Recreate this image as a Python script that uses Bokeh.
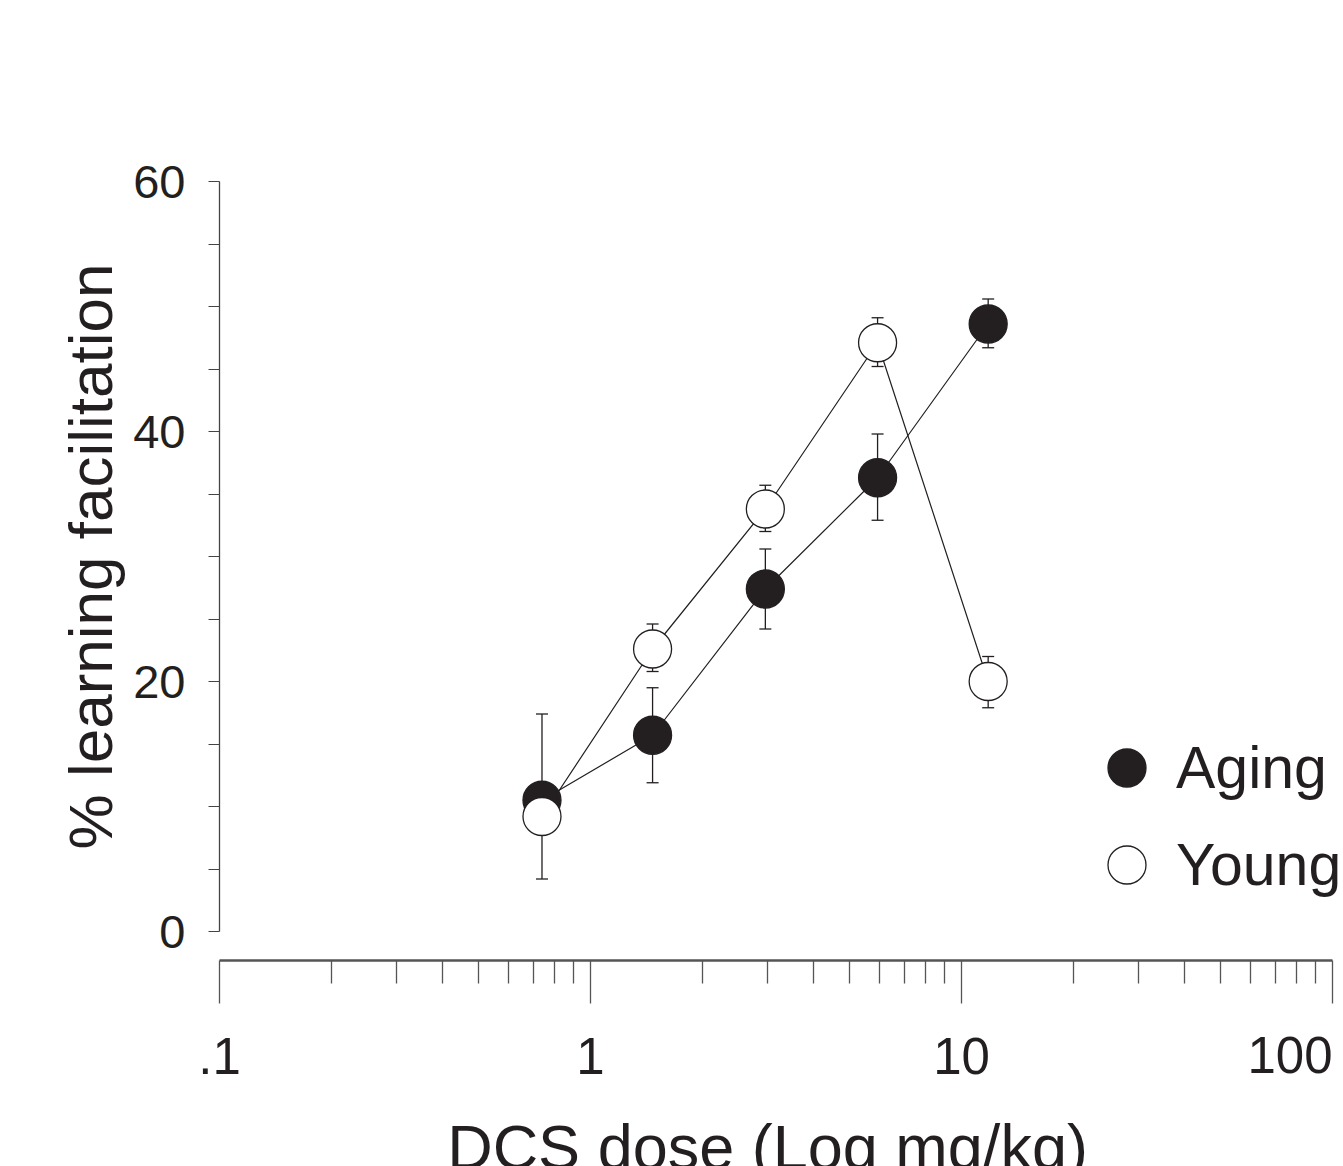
import math
from bokeh.plotting import figure
from bokeh.models import (ColumnDataSource, Range1d, FixedTicker, Whisker, TeeHead,
                          Legend, LegendItem, Label)
from bokeh.embed import file_html
from bokeh.resources import INLINE

# ---------------- data ----------------
dose = [0.74, 1.47, 2.96, 5.94, 11.8]
aging_mean = [10.5, 15.7, 27.4, 36.3, 48.6]
aging_upper = [17.4, 19.5, 30.6, 39.8, 50.6]
aging_lower = [10.5, 11.9, 24.2, 32.9, 46.7]
young_mean = [9.2, 22.6, 33.8, 47.1, 20.0]
young_upper = [9.2, 24.6, 35.7, 49.1, 22.0]
young_lower = [4.2, 20.8, 32.0, 45.2, 17.9]
series_names = ["Aging", "Young"]
x_tick_values = [0.1, 1, 10, 100]
x_tick_labels = [".1", "1", "10", "100"]
y_tick_values = [0, 20, 40, 60]
y_minor_values = [5, 10, 15, 25, 30, 35, 45, 50, 55]
x_title = "DCS dose (Log mg/kg)"
y_title = "% learning facilitation"

FONT = "Liberation Sans"
INK = "#231f20"
AXIS = "#444444"

# ---------------- page geometry (pixels) ----------------
W, H = 1343, 1166
X_LEFT, X_RIGHT = 219, 1332      # pixel of x = 0.1 and x = 100
Y_TOP, Y_ZERO = 181, 931         # pixel of y = 60 and y = 0
X_AXIS_PX = 960                  # detached x axis line
dec = (X_RIGHT - X_LEFT) / 3.0
ppu = (Y_ZERO - Y_TOP) / 60.0
x_start = 10 ** (-1 - X_LEFT / dec)
x_end = 10 ** (2 + (W - X_RIGHT) / dec)
y_start = (Y_ZERO - H) / ppu
y_end = Y_ZERO / ppu
x_axis_y = (Y_ZERO - X_AXIS_PX) / ppu

p = figure(width=W, height=H, x_axis_type="log",
           x_range=Range1d(x_start, x_end), y_range=Range1d(y_start, y_end),
           output_backend="svg", toolbar_location=None,
           min_border=0, min_border_left=0, min_border_right=0,
           min_border_top=0, min_border_bottom=0)
p.title.visible = False
p.outline_line_color = None
p.xgrid.visible = False
p.ygrid.visible = False
p.background_fill_color = "white"
p.border_fill_color = "white"

# ---------------- y axis ----------------
ya = p.yaxis[0]
ya.fixed_location = x_tick_values[0]
ya.ticker = FixedTicker(ticks=y_tick_values, minor_ticks=y_minor_values)
ya.bounds = (0, 60)
ya.axis_line_color = AXIS
ya.axis_line_width = 1.3
ya.major_tick_line_color = AXIS
ya.minor_tick_line_color = AXIS
ya.major_tick_line_width = 1.2
ya.minor_tick_line_width = 1.2
ya.major_tick_in = 0
ya.major_tick_out = 11
ya.minor_tick_in = 0
ya.minor_tick_out = 11
ya.major_label_standoff = 23
ya.major_label_text_font = FONT
ya.major_label_text_font_size = "47px"
ya.major_label_text_color = INK
ya.axis_label = y_title
ya.axis_label_text_font = FONT
ya.axis_label_text_font_size = "62px"
ya.axis_label_text_font_style = "normal"
ya.axis_label_text_color = INK
ya.axis_label_standoff = 5

# ---------------- x axis ----------------
minor_x = [m * 10.0 ** e for e in (-1, 0, 1) for m in range(2, 10)]
xa = p.xaxis[0]
xa.fixed_location = x_axis_y
xa.bounds = (x_tick_values[0], x_tick_values[-1])
xa.ticker = FixedTicker(ticks=x_tick_values, minor_ticks=minor_x)
xa.axis_line_color = "#555555"
xa.axis_line_width = 2.5
xa.major_tick_line_color = "#555555"
xa.minor_tick_line_color = "#555555"
xa.major_tick_line_width = 1.3
xa.minor_tick_line_width = 1.3
xa.major_tick_in = 0
xa.major_tick_out = 43
xa.minor_tick_in = 0
xa.minor_tick_out = 23
xa.major_label_standoff = 34
xa.major_label_text_font = FONT
xa.major_label_text_font_size = "51px"
xa.major_label_text_color = INK
# the last label sits at the page edge in the reference: drawn right-aligned below
xa.major_label_overrides = {v: (t if v != x_tick_values[-1] else "")
                            for v, t in zip(x_tick_values, x_tick_labels)}
p.add_layout(Label(x=x_tick_values[-1], y=(Y_ZERO - 1054) / ppu, text=x_tick_labels[-1],
                   text_align="right", text_baseline="alphabetic", text_font=FONT,
                   text_font_size="51px", text_color=INK))
p.add_layout(Label(x=3.0, y=(Y_ZERO - 1146) / ppu, text=x_title, text_align="center",
                   text_baseline="alphabetic", text_font=FONT,
                   text_font_size="63px", text_color=INK))

# ---------------- error bars ----------------
for mean, up, lo in ((aging_mean, aging_upper, aging_lower),
                     (young_mean, young_upper, young_lower)):
    src = ColumnDataSource(dict(x=dose, upper=up, lower=lo))
    w = Whisker(base="x", upper="upper", lower="lower", source=src,
                dimension="height", line_color=INK, line_width=1.3, level="underlay",
                upper_head=TeeHead(size=12, line_color=INK, line_width=1.3),
                lower_head=TeeHead(size=12, line_color=INK, line_width=1.3))
    p.add_layout(w)

# ---------------- lines and markers ----------------
p.line(dose, aging_mean, line_color=INK, line_width=1.2)
p.line(dose, young_mean, line_color=INK, line_width=1.2)
r_aging = p.scatter(dose, aging_mean, marker="circle", size=38,
                    fill_color=INK, line_color=INK, line_width=1.3)
r_young = p.scatter(dose, young_mean, marker="circle", size=38,
                    fill_color="white", line_color=INK, line_width=1.3)

legend = Legend(items=[LegendItem(label=series_names[0], renderers=[r_aging]),
                       LegendItem(label=series_names[1], renderers=[r_young])],
                location=(1079, 254), orientation="vertical",
                glyph_width=95, glyph_height=95, label_standoff=2, spacing=2,
                padding=0, margin=0, border_line_alpha=0, background_fill_alpha=0,
                label_text_font=FONT, label_text_font_size="59px", label_text_color=INK)
p.add_layout(legend)

open("out.html", "w").write(file_html(p, INLINE))
